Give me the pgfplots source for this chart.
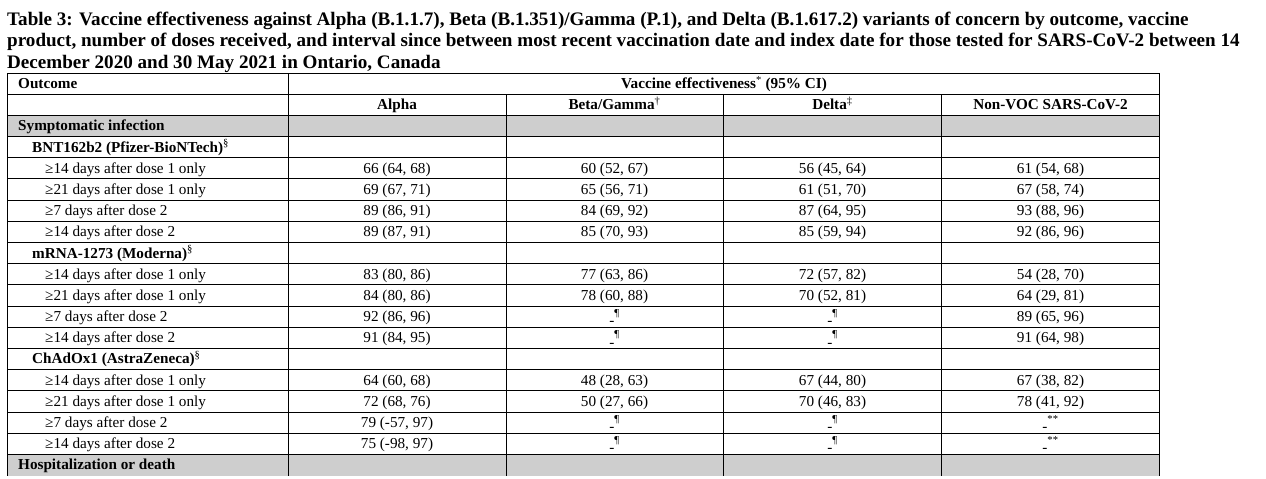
\documentclass[border=0pt]{standalone}
\usepackage{pgfplots}
\pgfplotsset{compat=1.18}
\usepackage{pgfplotstable}
\usepackage{fontspec}
\setmainfont{Liberation Serif}
\definecolor{rowgray}{RGB}{206,206,206}
\newcommand\titlef{\fontsize{19.1}{21}\selectfont\bfseries}
\newcommand\bodyf{\fontsize{15.2}{17}\selectfont}
\newcommand\headf{\fontsize{15.2}{17}\selectfont\bfseries}

\pgfplotstableread[col sep=semicolon]{
x;row;label
397;4;66 (64, 68)
397;5;69 (67, 71)
397;6;89 (86, 91)
397;7;89 (87, 91)
397;9;83 (80, 86)
397;10;84 (80, 86)
397;11;92 (86, 96)
397;12;91 (84, 95)
397;14;64 (60, 68)
397;15;72 (68, 76)
397;16;79 (-57, 97)
397;17;75 (-98, 97)
614.5;4;60 (52, 67)
614.5;5;65 (56, 71)
614.5;6;84 (69, 92)
614.5;7;85 (70, 93)
614.5;9;77 (63, 86)
614.5;10;78 (60, 88)
614.5;11;{\raisebox{-0.28em}{-}\textsuperscript{¶}}
614.5;12;{\raisebox{-0.28em}{-}\textsuperscript{¶}}
614.5;14;48 (28, 63)
614.5;15;50 (27, 66)
614.5;16;{\raisebox{-0.28em}{-}\textsuperscript{¶}}
614.5;17;{\raisebox{-0.28em}{-}\textsuperscript{¶}}
832.5;4;56 (45, 64)
832.5;5;61 (51, 70)
832.5;6;87 (64, 95)
832.5;7;85 (59, 94)
832.5;9;72 (57, 82)
832.5;10;70 (52, 81)
832.5;11;{\raisebox{-0.28em}{-}\textsuperscript{¶}}
832.5;12;{\raisebox{-0.28em}{-}\textsuperscript{¶}}
832.5;14;67 (44, 80)
832.5;15;70 (46, 83)
832.5;16;{\raisebox{-0.28em}{-}\textsuperscript{¶}}
832.5;17;{\raisebox{-0.28em}{-}\textsuperscript{¶}}
1050.5;4;61 (54, 68)
1050.5;5;67 (58, 74)
1050.5;6;93 (88, 96)
1050.5;7;92 (86, 96)
1050.5;9;54 (28, 70)
1050.5;10;64 (29, 81)
1050.5;11;89 (65, 96)
1050.5;12;91 (64, 98)
1050.5;14;67 (38, 82)
1050.5;15;78 (41, 92)
1050.5;16;{\raisebox{-0.28em}{-}\textsuperscript{**}}
1050.5;17;{\raisebox{-0.28em}{-}\textsuperscript{**}}
}\vetable

\begin{document}
\begin{tikzpicture}
\useasboundingbox (0,0) rectangle (1266pt,479pt);
\begin{axis}[
  width=1266pt, height=479pt, scale only axis,
  xmin=0, xmax=1266, ymin=0, ymax=479, y dir=reverse,
  hide axis, clip=false,
]
% gray rows
\fill[rowgray] (axis cs:7.5,115.38) rectangle (axis cs:1159,136.57);
\fill[rowgray] (axis cs:7.5,454.42) rectangle (axis cs:1159,475.5);
% horizontal rules
\pgfplotsinvokeforeach{0,...,18}{
  \draw[line width=1pt] (axis cs:7,{73+21.19*#1}) -- (axis cs:1159.5,{73+21.19*#1});
}
% vertical rules
\draw[line width=1pt] (axis cs:7.5,73) -- (axis cs:7.5,475.5);
\draw[line width=1pt] (axis cs:288,73) -- (axis cs:288,475.5);
\draw[line width=1pt] (axis cs:1159,73) -- (axis cs:1159,475.5);
\pgfplotsinvokeforeach{506,723,941.5}{
  \draw[line width=1pt] (axis cs:#1,94.2) -- (axis cs:#1,475.5);
}
% title
\node[anchor=base west, inner sep=0pt, font=\titlef] at (axis cs:7,25)
  {Table 3: Vaccine effectiveness against Alpha (B.1.1.7), Beta (B.1.351)/Gamma (P.1), and Delta (B.1.617.2) variants of concern by outcome, vaccine};
\node[anchor=base west, inner sep=0pt, font=\titlef] at (axis cs:7,46.5)
  {product, number of doses received, and interval since between most recent vaccination date and index date for those tested for SARS-CoV-2 between 14};
\node[anchor=base west, inner sep=0pt, font=\titlef] at (axis cs:7,68)
  {December 2020 and 30 May 2021 in Ontario, Canada};
% header
\node[anchor=base west, inner sep=0pt, font=\headf] at (axis cs:18,88.5) {Outcome};
\node[anchor=base, inner sep=0pt, font=\headf] at (axis cs:724,88.5) {Vaccine effectiveness\textsuperscript{\mdseries*} (95\% CI)};
\node[anchor=base, inner sep=0pt, font=\headf] at (axis cs:397,109.7) {Alpha};
\node[anchor=base, inner sep=0pt, font=\headf] at (axis cs:614.5,109.7) {Beta/Gamma\textsuperscript{\mdseries †}};
\node[anchor=base, inner sep=0pt, font=\headf] at (axis cs:832.5,109.7) {Delta\textsuperscript{\mdseries ‡}};
\node[anchor=base, inner sep=0pt, font=\headf] at (axis cs:1050.5,109.7) {Non-VOC SARS-CoV-2};
% row labels
\node[anchor=base west, inner sep=0pt, font=\headf] at (axis cs:18,130.9) {Symptomatic infection};
\node[anchor=base west, inner sep=0pt, font=\headf] at (axis cs:32,152.1) {BNT162b2 (Pfizer-BioNTech)\textsuperscript{\mdseries §}};
\node[anchor=base west, inner sep=0pt, font=\headf] at (axis cs:32,258.0) {mRNA-1273 (Moderna)\textsuperscript{\mdseries §}};
\node[anchor=base west, inner sep=0pt, font=\headf] at (axis cs:32,363.97) {ChAdOx1 (AstraZeneca)\textsuperscript{\mdseries §}};
\node[anchor=base west, inner sep=0pt, font=\headf] at (axis cs:18,469.9) {Hospitalization or death};
\pgfplotsinvokeforeach{4,9,14}{
  \node[anchor=base west, inner sep=0pt, font=\bodyf] at (axis cs:45,{73+21.19*#1+15.5}) {≥14 days after dose 1 only};
  \node[anchor=base west, inner sep=0pt, font=\bodyf] at (axis cs:45,{73+21.19*(#1+1)+15.5}) {≥21 days after dose 1 only};
  \node[anchor=base west, inner sep=0pt, font=\bodyf] at (axis cs:45,{73+21.19*(#1+2)+15.5}) {≥7 days after dose 2};
  \node[anchor=base west, inner sep=0pt, font=\bodyf] at (axis cs:45,{73+21.19*(#1+3)+15.5}) {≥14 days after dose 2};
}
% values
\addplot[draw=none, mark=none, nodes near coords, point meta=explicit symbolic,
  every node near coord/.append style={anchor=base, inner sep=0pt, font=\bodyf, text=black}]
  table[x=x, y expr={73+21.19*\thisrow{row}+15.5}, meta=label] {\vetable};
\end{axis}
\end{tikzpicture}
\end{document}
